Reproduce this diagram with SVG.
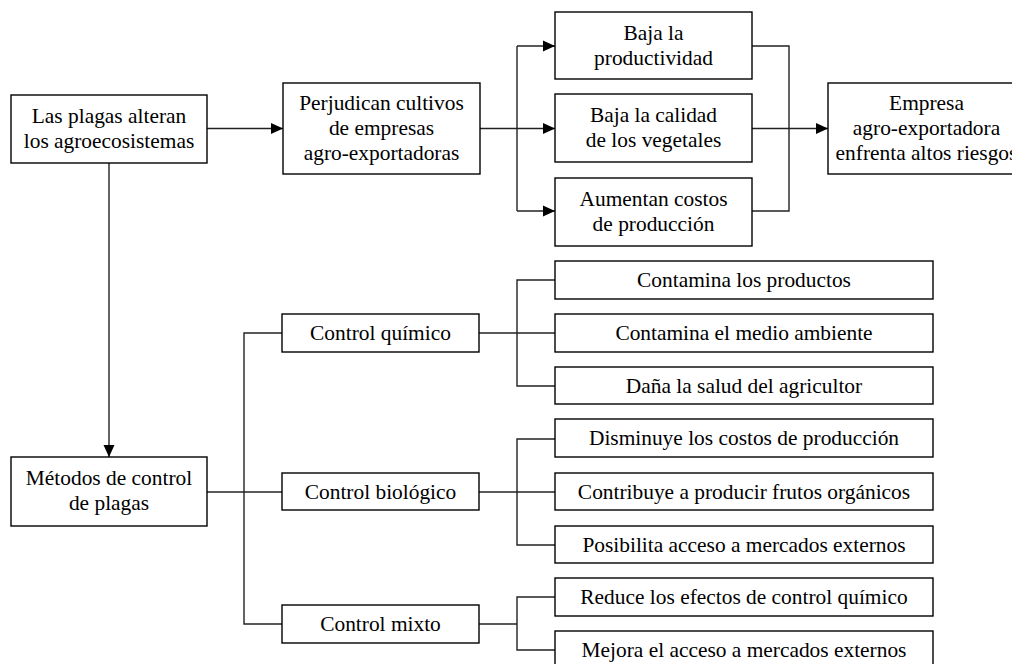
<svg xmlns="http://www.w3.org/2000/svg" width="1012" height="664" viewBox="0 0 1012 664">
<defs>
<style>
rect.b{fill:#fff;stroke:#000;stroke-width:1.4}
text{font-family:"Liberation Serif","Times New Roman",serif;font-size:21.4px;fill:#000;text-anchor:middle}
.c path{fill:none;stroke:#222;stroke-width:1.4}
</style>
<marker id="ah" markerUnits="userSpaceOnUse" markerWidth="13" markerHeight="12" refX="12" refY="6" orient="auto">
<path d="M0,0.5 L12,6 L0,11.5 Z" fill="#000"/>
</marker>
</defs>
<rect width="1012" height="664" fill="#fff"/>
<g class="c" id="connectors">
<path d="M207,128.5 H283" marker-end="url(#ah)"/>
<path d="M109,163 V457" marker-end="url(#ah)"/>
<path d="M480,128.5 H517"/>
<path d="M517,46 V211"/>
<path d="M517,46 H555" marker-end="url(#ah)"/>
<path d="M517,128.5 H555" marker-end="url(#ah)"/>
<path d="M517,211 H555" marker-end="url(#ah)"/>
<path d="M752,46 H789 V211 H752"/>
<path d="M752,128.5 H789"/>
<path d="M789,128.5 H828" marker-end="url(#ah)"/>
<path d="M207,492 H244"/>
<path d="M282,333 H244 V624 H282"/>
<path d="M244,492 H282"/>
<path d="M479,333 H517"/>
<path d="M555,280 H517 V386 H555"/>
<path d="M517,333 H555"/>
<path d="M479,492 H517"/>
<path d="M555,439 H517 V545 H555"/>
<path d="M517,492 H555"/>
<path d="M479,624 H517"/>
<path d="M555,597 H517 V650 H555"/>
</g>
<g id="n1"><rect class="b" x="11" y="95" width="196" height="68"/><text x="109" y="123">Las plagas alteran</text><text x="109" y="148">los agroecosistemas</text></g>
<g id="n2"><rect class="b" x="283" y="83" width="197" height="91"/><text x="381.5" y="109.5">Perjudican cultivos</text><text x="381.5" y="134.5">de empresas</text><text x="381.5" y="159.5">agro-exportadoras</text></g>
<g id="n3"><rect class="b" x="555" y="12" width="197" height="67"/><text x="653.5" y="39.5">Baja la</text><text x="653.5" y="64.5">productividad</text></g>
<g id="n4"><rect class="b" x="555" y="94" width="197" height="68"/><text x="653.5" y="122">Baja la calidad</text><text x="653.5" y="147">de los vegetales</text></g>
<g id="n5"><rect class="b" x="555" y="178" width="197" height="68"/><text x="653.5" y="206">Aumentan costos</text><text x="653.5" y="231">de producción</text></g>
<g id="n6"><rect class="b" x="828" y="83" width="197" height="91"/><text x="926.5" y="109.5">Empresa</text><text x="926.5" y="134.5">agro-exportadora</text><text x="926.5" y="159.5">enfrenta altos riesgos</text></g>
<g id="n7"><rect class="b" x="11" y="457" width="196" height="69"/><text x="109" y="485">Métodos de control</text><text x="109" y="510">de plagas</text></g>
<g id="n8"><rect class="b" x="282" y="314" width="197" height="38"/><text x="380.5" y="339.5">Control químico</text></g>
<g id="n9"><rect class="b" x="282" y="473" width="197" height="37"/><text x="380.5" y="498.5">Control biológico</text></g>
<g id="n10"><rect class="b" x="282" y="605" width="197" height="38"/><text x="380.5" y="630.5">Control mixto</text></g>
<g id="n11"><rect class="b" x="555" y="261" width="378" height="38"/><text x="744" y="286.5">Contamina los productos</text></g>
<g id="n12"><rect class="b" x="555" y="314" width="378" height="38"/><text x="744" y="339.5">Contamina el medio ambiente</text></g>
<g id="n13"><rect class="b" x="555" y="367" width="378" height="37"/><text x="744" y="392.5">Daña la salud del agricultor</text></g>
<g id="n14"><rect class="b" x="555" y="419" width="378" height="38"/><text x="744" y="444.5">Disminuye los costos de producción</text></g>
<g id="n15"><rect class="b" x="555" y="473" width="378" height="37"/><text x="744" y="498.5">Contribuye a producir frutos orgánicos</text></g>
<g id="n16"><rect class="b" x="555" y="526" width="378" height="37"/><text x="744" y="551.5">Posibilita acceso a mercados externos</text></g>
<g id="n17"><rect class="b" x="555" y="578" width="378" height="38"/><text x="744" y="603.5">Reduce los efectos de control químico</text></g>
<g id="n18"><rect class="b" x="555" y="631" width="378" height="38"/><text x="744" y="656.5">Mejora el acceso a mercados externos</text></g>
</svg>
